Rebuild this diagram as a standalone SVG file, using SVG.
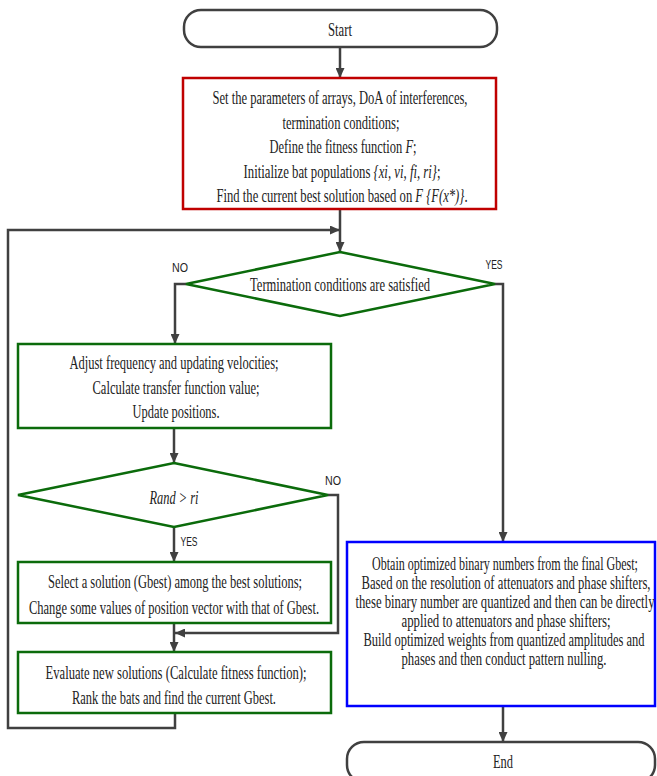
<svg xmlns="http://www.w3.org/2000/svg" width="657" height="776" viewBox="0 0 657 776">
<style>
.t{font-family:"Liberation Serif","Times New Roman","DejaVu Serif",serif;font-size:18px;fill:#222;text-anchor:middle;dominant-baseline:central}
.s{font-family:"Liberation Sans",Arial,sans-serif;font-size:13px;fill:#222;text-anchor:middle;dominant-baseline:central}
.i{font-style:italic}
.term{fill:#fff;stroke:#404040;stroke-width:2.5}
.red{fill:#fff;stroke:#c00000;stroke-width:2.5}
.grn{fill:#fff;stroke:#0b6b0b;stroke-width:2.5}
.blu{fill:#fff;stroke:#0000ff;stroke-width:2.5}
.c{fill:none;stroke:#404040;stroke-width:2.5;marker-end:url(#ah)}
</style>
<defs>
<marker id="ah" markerUnits="userSpaceOnUse" markerWidth="10" markerHeight="9" refX="10" refY="4.5" orient="auto">
<path d="M0,0 L10,4.5 L0,9 z" fill="#404040"/>
</marker>
</defs>
<rect width="657" height="776" fill="#fff"/>
<g id="connectors">
<line class="c" x1="340" y1="47" x2="340" y2="78"/>
<line class="c" x1="340" y1="209" x2="340" y2="252"/>
<path class="c" d="M175,713 V728 H8 V230 H340"/>
<path class="c" d="M186,284 H175 V344"/>
<path class="c" d="M495,284 H503 V542"/>
<line class="c" x1="174" y1="428" x2="174" y2="463"/>
<line class="c" x1="174" y1="527" x2="174" y2="562"/>
<line class="c" x1="174" y1="623" x2="174" y2="652"/>
<path class="c" d="M328,495 H338 V633 H175"/>
<line class="c" x1="503" y1="706" x2="503" y2="742"/>
</g>
<g id="start">
<rect class="term" x="184" y="10" width="313" height="37" rx="17" ry="17"/>
<g transform="scale(0.65 1)">
<text class="t" x="523.1" y="29" textLength="36.9" lengthAdjust="spacingAndGlyphs">Start</text>
</g>
</g>
<g id="init">
<rect class="red" x="183" y="78" width="313" height="131"/>
<g transform="scale(0.65 1)">
<text class="t" x="523.1" y="97" textLength="392.3" lengthAdjust="spacingAndGlyphs">Set the parameters of arrays, DoA of interferences,</text>
<text class="t" x="524.6" y="122" textLength="180" lengthAdjust="spacingAndGlyphs">termination conditions;</text>
<text class="t" x="527.7" y="146" textLength="226.2" lengthAdjust="spacingAndGlyphs">Define the fitness function <tspan class="i">F</tspan>;</text>
<text class="t" x="526.2" y="171" textLength="303.1" lengthAdjust="spacingAndGlyphs">Initialize bat populations <tspan class="i">{xi, vi, fi, ri}</tspan>;</text>
<text class="t" x="526.2" y="195" textLength="386.2" lengthAdjust="spacingAndGlyphs">Find the current best solution based on <tspan class="i">F {F(x*)}</tspan>.</text>
</g>
</g>
<g id="check-termination">
<polygon class="grn" points="340,252 495,284 340,316 186,284"/>
<g transform="scale(0.65 1)">
<text class="t" x="523.1" y="284" textLength="276.9" lengthAdjust="spacingAndGlyphs">Termination conditions are satisfied</text>
</g>
<text class="s" x="180" y="267" textLength="16" lengthAdjust="spacingAndGlyphs">NO</text>
<text class="s" x="494" y="264" textLength="17" lengthAdjust="spacingAndGlyphs">YES</text>
</g>
<g id="adjust">
<rect class="grn" x="18" y="344" width="313" height="84"/>
<g transform="scale(0.65 1)">
<text class="t" x="267.7" y="362" textLength="321.5" lengthAdjust="spacingAndGlyphs">Adjust frequency and updating velocities;</text>
<text class="t" x="270.8" y="387" textLength="256.9" lengthAdjust="spacingAndGlyphs">Calculate transfer function value;</text>
<text class="t" x="270.8" y="411" textLength="133.8" lengthAdjust="spacingAndGlyphs">Update positions.</text>
</g>
</g>
<g id="check-rand">
<polygon class="grn" points="174,463 328,495 174,527 18,495"/>
<g transform="scale(0.65 1)">
<text class="t i" x="267.7" y="497" textLength="75.4" lengthAdjust="spacingAndGlyphs">Rand &gt; ri</text>
</g>
<text class="s" x="333" y="480" textLength="16" lengthAdjust="spacingAndGlyphs">NO</text>
<text class="s" x="189" y="541" textLength="17" lengthAdjust="spacingAndGlyphs">YES</text>
</g>
<g id="select">
<rect class="grn" x="18" y="562" width="313" height="61"/>
<g transform="scale(0.65 1)">
<text class="t" x="269.2" y="581" textLength="390.8" lengthAdjust="spacingAndGlyphs">Select a solution (Gbest) among the best solutions;</text>
<text class="t" x="267.7" y="607" textLength="446.2" lengthAdjust="spacingAndGlyphs">Change some values of position vector with that of Gbest.</text>
</g>
</g>
<g id="evaluate">
<rect class="grn" x="18" y="652" width="313" height="61"/>
<g transform="scale(0.65 1)">
<text class="t" x="270.8" y="672" textLength="401.5" lengthAdjust="spacingAndGlyphs">Evaluate new solutions (Calculate fitness function);</text>
<text class="t" x="267.7" y="697" textLength="313.8" lengthAdjust="spacingAndGlyphs">Rank the bats and find the current Gbest.</text>
</g>
</g>
<g id="output">
<rect class="blu" x="347" y="542" width="308" height="164"/>
<g transform="scale(0.65 1)">
<text class="t" x="776.9" y="563" textLength="409.2" lengthAdjust="spacingAndGlyphs">Obtain optimized binary numbers from the final Gbest;</text>
<text class="t" x="778.5" y="582" textLength="444.6" lengthAdjust="spacingAndGlyphs">Based on the resolution of attenuators and phase shifters,</text>
<text class="t" x="776.9" y="601" textLength="460" lengthAdjust="spacingAndGlyphs">these binary number are quantized and then can be directly</text>
<text class="t" x="778.5" y="620" textLength="321.5" lengthAdjust="spacingAndGlyphs">applied to attenuators and phase shifters;</text>
<text class="t" x="775.4" y="639" textLength="432.3" lengthAdjust="spacingAndGlyphs">Build optimized weights from quantized amplitudes and</text>
<text class="t" x="775.4" y="658" textLength="315.4" lengthAdjust="spacingAndGlyphs">phases and then conduct pattern nulling.</text>
</g>
</g>
<g id="end">
<rect class="term" x="347" y="742" width="308" height="40" rx="17" ry="17"/>
<g transform="scale(0.65 1)">
<text class="t" x="773.8" y="761" textLength="30.8" lengthAdjust="spacingAndGlyphs">End</text>
</g>
</g>
</svg>
